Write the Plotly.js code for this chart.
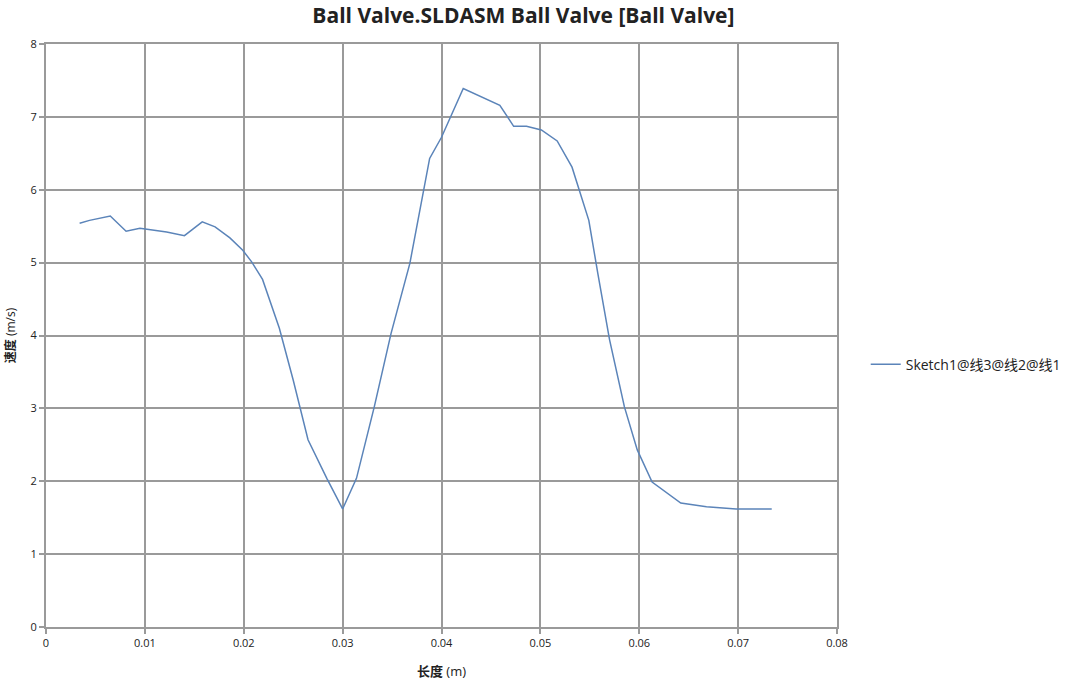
<!DOCTYPE html>
<html>
<head>
<meta charset="utf-8">
<script src="https://cdn.plot.ly/plotly-3.0.1.min.js"></script>
<style>html,body{margin:0;padding:0;background:#fff;}#chart{width:1077px;height:695px;}</style>
</head>
<body>
<div id="chart"></div>
<script>
const seriesName = "Sketch1@线3@线2@线1";
const lengthM = [0.0034, 0.0044, 0.0065, 0.0081, 0.0095, 0.0122, 0.0140, 0.0158, 0.0171, 0.0186, 0.0199, 0.0208, 0.0219, 0.0236, 0.0250, 0.0265, 0.0284, 0.0300, 0.0314, 0.0332, 0.0349, 0.0368, 0.0388, 0.0400, 0.0422, 0.0459, 0.0473, 0.0486, 0.0501, 0.0517, 0.0532, 0.0549, 0.0558, 0.0570, 0.0585, 0.0598, 0.0613, 0.0642, 0.0668, 0.0698, 0.0734];
const velocity = [5.54, 5.58, 5.64, 5.43, 5.47, 5.42, 5.37, 5.56, 5.49, 5.34, 5.17, 5.01, 4.77, 4.10, 3.39, 2.57, 2.04, 1.62, 2.04, 3.02, 4.03, 4.99, 6.43, 6.72, 7.39, 7.16, 6.87, 6.87, 6.82, 6.67, 6.31, 5.58, 4.86, 3.94, 3.02, 2.43, 1.99, 1.70, 1.65, 1.62, 1.62];
const xTicks = [0, 0.01, 0.02, 0.03, 0.04, 0.05, 0.06, 0.07, 0.08];
const xTickText = ["0", "0.01", "0.02", "0.03", "0.04", "0.05", "0.06", "0.07", "0.08"];
const yTicks = [0, 1, 2, 3, 4, 5, 6, 7, 8];

const fontFam = "'Open Sans', 'Noto Sans CJK SC', sans-serif";
const gridCol = "#9a9a9a";

Plotly.newPlot("chart", [{
  x: lengthM, y: velocity, type: "scatter", mode: "lines", name: seriesName,
  line: {color: "#5b84b9", width: 1.5}
}], {
  width: 1077, height: 695,
  margin: {l: 46, r: 239, t: 44, b: 68},
  paper_bgcolor: "#fff", plot_bgcolor: "#fff",
  font: {family: fontFam, size: 11, color: "#222"},
  title: {text: "<b>Ball Valve.SLDASM Ball Valve [Ball Valve]</b>", x: 0.486, xref: "container", xanchor: "center", y: 0.977, yanchor: "middle", font: {size: 21, color: "#222", family: fontFam}},
  xaxis: {
    range: [0, 0.08], tickvals: xTicks, ticktext: xTickText,
    showgrid: true, gridcolor: gridCol, gridwidth: 2,
    showline: true, linecolor: gridCol, linewidth: 2, mirror: true,
    ticks: "outside", ticklen: 5, tickcolor: gridCol, tickwidth: 2, zeroline: false,
    title: {text: "<b>长度</b> (m)", standoff: 18, font: {size: 13}}
  },
  yaxis: {
    range: [0, 8], tickvals: yTicks,
    showgrid: true, gridcolor: gridCol, gridwidth: 2,
    showline: true, linecolor: gridCol, linewidth: 2, mirror: true,
    ticks: "outside", ticklen: 5, tickcolor: gridCol, tickwidth: 2, zeroline: false,
    title: {text: "<b>速度</b> (m/s)", standoff: 12, font: {size: 12}}
  },
  showlegend: true,
  legend: {x: 1.035, xanchor: "left", y: 0.45, yanchor: "middle", font: {size: 14}, bgcolor: "rgba(0,0,0,0)"}
}, {displayModeBar: false, staticPlot: true});
</script>
</body>
</html>
